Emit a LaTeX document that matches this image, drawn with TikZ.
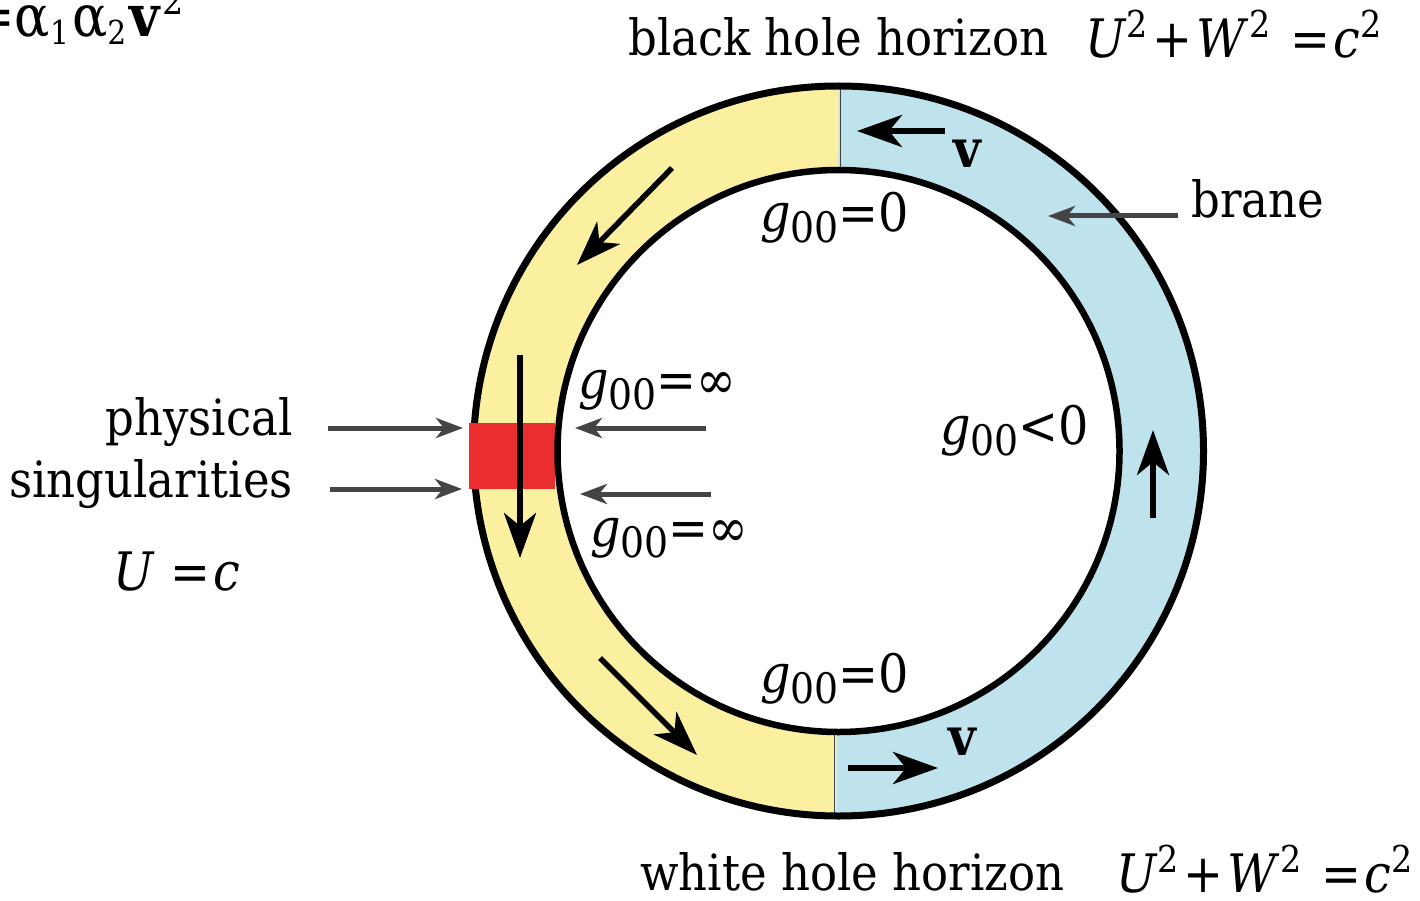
\documentclass[tikz,border=0pt]{standalone}
\usepackage{fontspec}
\setmainfont{DejaVu Serif}[FakeStretch=0.9]
\usetikzlibrary{arrows.meta}
\definecolor{ringyellow}{RGB}{250,240,160}
\definecolor{ringblue}{RGB}{190,227,236}
\definecolor{singred}{RGB}{234,46,46}
\definecolor{pointer}{RGB}{68,68,68}
\newcommand\gzz[1]{\textit{g}\raisebox{-11pt}{\fontsize{42}{42}\selectfont 00}#1}
\newcommand\supt{\raisebox{20pt}{\fontsize{37}{37}\selectfont 2}}
\newcommand\subsm[1]{\raisebox{-8pt}{\fontsize{33}{33}\selectfont #1}}
\newcommand\eqline{\textit{U}\supt\hspace{5pt}+\hspace{4pt}\textit{W}\supt\hspace{20pt}=\hspace{3pt}\textit{c}\supt}
\begin{document}
\begin{tikzpicture}[x=1pt,y=-1pt,
  lbl/.style={inner sep=0pt, font=\fontsize{50}{54}\selectfont},
  eqn/.style={inner sep=0pt, font=\fontsize{53}{57}\selectfont},
  bigarrow/.style={line width=5.5pt, -{Stealth[length=45pt,width=32pt,inset=13pt]}},
  pointarrow/.style={draw=pointer, line width=5pt, -{Stealth[length=27pt,width=20pt,inset=8pt]}}]
\useasboundingbox (0,0) rectangle (1420,901);
\clip (0,0) rectangle (1420,901);
\fill[white] (0,0) rectangle (1420,901);
\coordinate (c) at (838.5,451);
% ring fills
\begin{scope}
  \clip (0,0) -- (839,0) -- (836,901) -- (0,901) -- cycle;
  \fill[ringyellow, even odd rule] (c) circle[radius=365] (c) circle[radius=281];
\end{scope}
\begin{scope}
  \clip (839,0) -- (1420,0) -- (1420,901) -- (836,901) -- cycle;
  \fill[ringblue, even odd rule] (c) circle[radius=365] (c) circle[radius=281];
\end{scope}
% horizon dividers
\coordinate (bhtop) at (840,84);
\coordinate (bhbot) at (840,172);
\coordinate (whtop) at (834,730);
\coordinate (whbot) at (834,818);
\draw[line width=0.9pt, black!75] (bhtop) -- (bhbot);
\draw[line width=0.9pt, black!75] (whtop) -- (whbot);
% outer circle
\draw[line width=7pt] (c) circle[radius=365];
% singularity block
\fill[singred] (469,423) rectangle (555,489);
% inner circle
\draw[line width=6.5pt] (c) circle[radius=281];
% flow arrows in the yellow half
\coordinate (ya1s) at (672,168); \coordinate (ya1e) at (577,265);
\coordinate (ya2s) at (520,355); \coordinate (ya2e) at (520,558);
\coordinate (ya3s) at (600,658); \coordinate (ya3e) at (697,755);
\draw[bigarrow] (ya1s) -- (ya1e);
\draw[bigarrow] (ya2s) -- (ya2e);
\draw[bigarrow] (ya3s) -- (ya3e);
% flow arrows in the blue half
\coordinate (ba1s) at (945,131); \coordinate (ba1e) at (857,131);
\coordinate (ba2s) at (848,768); \coordinate (ba2e) at (938,768);
\coordinate (ba3s) at (1153,518); \coordinate (ba3e) at (1153,430);
\draw[bigarrow] (ba1s) -- (ba1e);
\draw[bigarrow] (ba2s) -- (ba2e);
\draw[bigarrow] (ba3s) -- (ba3e);
% pointer arrows
\coordinate (p1s) at (328,428); \coordinate (p1e) at (463,428);
\coordinate (p2s) at (330,489); \coordinate (p2e) at (462,489);
\coordinate (p3s) at (706,428); \coordinate (p3e) at (575,428);
\coordinate (p4s) at (711,494); \coordinate (p4e) at (580,494);
\coordinate (p5s) at (1178,216); \coordinate (p5e) at (1048,216);
\draw[pointarrow] (p1s) -- (p1e);
\draw[pointarrow] (p2s) -- (p2e);
\draw[pointarrow] (p3s) -- (p3e);
\draw[pointarrow] (p4s) -- (p4e);
\draw[pointarrow] (p5s) -- (p5e);
% texts
\node[inner sep=0pt, font=\fontsize{58}{60}\selectfont, anchor=base west] (corner) at (-29,37)
  {=α\subsm{1}\hspace{3pt}α\subsm{2}\hspace{3pt}\textbf{v}\hspace{2pt}\raisebox{22pt}{\fontsize{37}{37}\selectfont 2}};
\node[lbl, anchor=base west] (bh) at (628,56) {black hole horizon};
\node[eqn, anchor=base west] (bheq) at (1085,58) {\eqline};
\node[lbl, anchor=base west] (brane) at (1191,218) {brane};
\node[eqn, anchor=base west] (gtop) at (760,232) {\gzz{=0}};
\node[eqn, anchor=base west] (ginfa) at (578,398) {\gzz{=∞}};
\node[eqn, anchor=base west] (gneg) at (940,444) {\gzz{<0}};
\node[eqn, anchor=base west] (ginfb) at (590,546) {\gzz{=∞}};
\node[eqn, anchor=base west] (gbot) at (760,692) {\gzz{=0}};
\node[lbl, anchor=base east] (phys) at (293,435) {physical};
\node[lbl, anchor=base east] (sing) at (293,497) {singularities};
\node[eqn, anchor=base west] (uc) at (113,590) {\textit{U}\hspace{16pt}=\hspace{3pt}\textit{c}};
\node[eqn, anchor=base west] (vtop) at (953,168) {\textbf{v}};
\node[eqn, anchor=base west] (vbot) at (948,755) {\textbf{v}};
\node[lbl, anchor=base west] (wh) at (640,890) {white hole horizon};
\node[eqn, anchor=base west] (wheq) at (1116,892) {\eqline};
\end{tikzpicture}
\end{document}
